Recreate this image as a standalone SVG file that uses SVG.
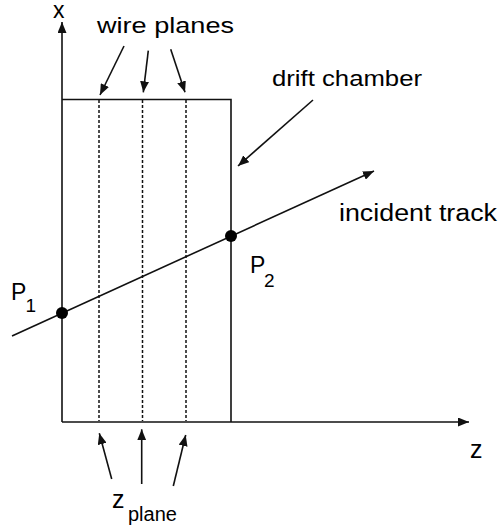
<svg xmlns="http://www.w3.org/2000/svg" width="502" height="526" viewBox="0 0 502 526">
<style>
.ln{stroke:#111;stroke-width:1.6;fill:none}
.ds{stroke:#111;stroke-width:1.5;fill:none;stroke-dasharray:3 2}
.ar{stroke:#111;stroke-width:1.6;fill:none;marker-end:url(#ah)}
.t{font-family:"Liberation Sans",Arial,sans-serif;fill:#000}
</style>
<defs>
<marker id="ah" markerUnits="userSpaceOnUse" markerWidth="11" markerHeight="9" refX="11" refY="4.5" orient="auto">
<path d="M0,0 L11,4.5 L0,9 z" fill="#111"/>
</marker>
</defs>
<rect width="502" height="526" fill="#fff"/>
<g id="connectors">
<line class="ar" x1="62" y1="422" x2="62" y2="22"/>
<line class="ar" x1="62" y1="422" x2="469" y2="422"/>
<line class="ar" x1="12" y1="336" x2="374" y2="171"/>
<line class="ar" x1="124" y1="46" x2="100" y2="95"/>
<line class="ar" x1="148.3" y1="50.7" x2="143.3" y2="92.3"/>
<line class="ar" x1="170.7" y1="49.3" x2="185" y2="92.3"/>
<line class="ar" x1="313" y1="100" x2="238" y2="166"/>
<line class="ar" x1="111.7" y1="479" x2="99.3" y2="433.3"/>
<line class="ar" x1="141.7" y1="484" x2="141.7" y2="429.3"/>
<line class="ar" x1="173.3" y1="486" x2="185.7" y2="435"/>
</g>
<g id="chamber">
<polyline class="ln" points="62,99.5 231,99.5 231,422"/>
<line class="ds" x1="99" y1="100" x2="99" y2="421"/>
<line class="ds" x1="142.5" y1="100" x2="142.5" y2="421"/>
<line class="ds" x1="186" y1="100" x2="186" y2="421"/>
</g>
<g id="P1">
<circle cx="62" cy="313" r="6" fill="#000"/>
<text class="t" x="11" y="300" font-size="23">P</text>
<text class="t" x="25.5" y="312" font-size="19">1</text>
</g>
<g id="P2">
<circle cx="231" cy="236" r="6" fill="#000"/>
<text class="t" x="250" y="273" font-size="23">P</text>
<text class="t" x="264" y="287" font-size="19">2</text>
</g>
<g id="labels">
<text class="t" x="53" y="17.5" font-size="23">x</text>
<text class="t" x="470" y="458" font-size="25">z</text>
<text class="t" x="97" y="32.5" font-size="22" textLength="137" lengthAdjust="spacingAndGlyphs">wire planes</text>
<text class="t" x="272" y="86" font-size="22" textLength="150" lengthAdjust="spacingAndGlyphs">drift chamber</text>
<text class="t" x="339" y="221" font-size="23" textLength="158" lengthAdjust="spacingAndGlyphs">incident track</text>
<text class="t" x="112" y="508" font-size="25">z</text>
<text class="t" x="128" y="521" font-size="20">plane</text>
</g>
</svg>
